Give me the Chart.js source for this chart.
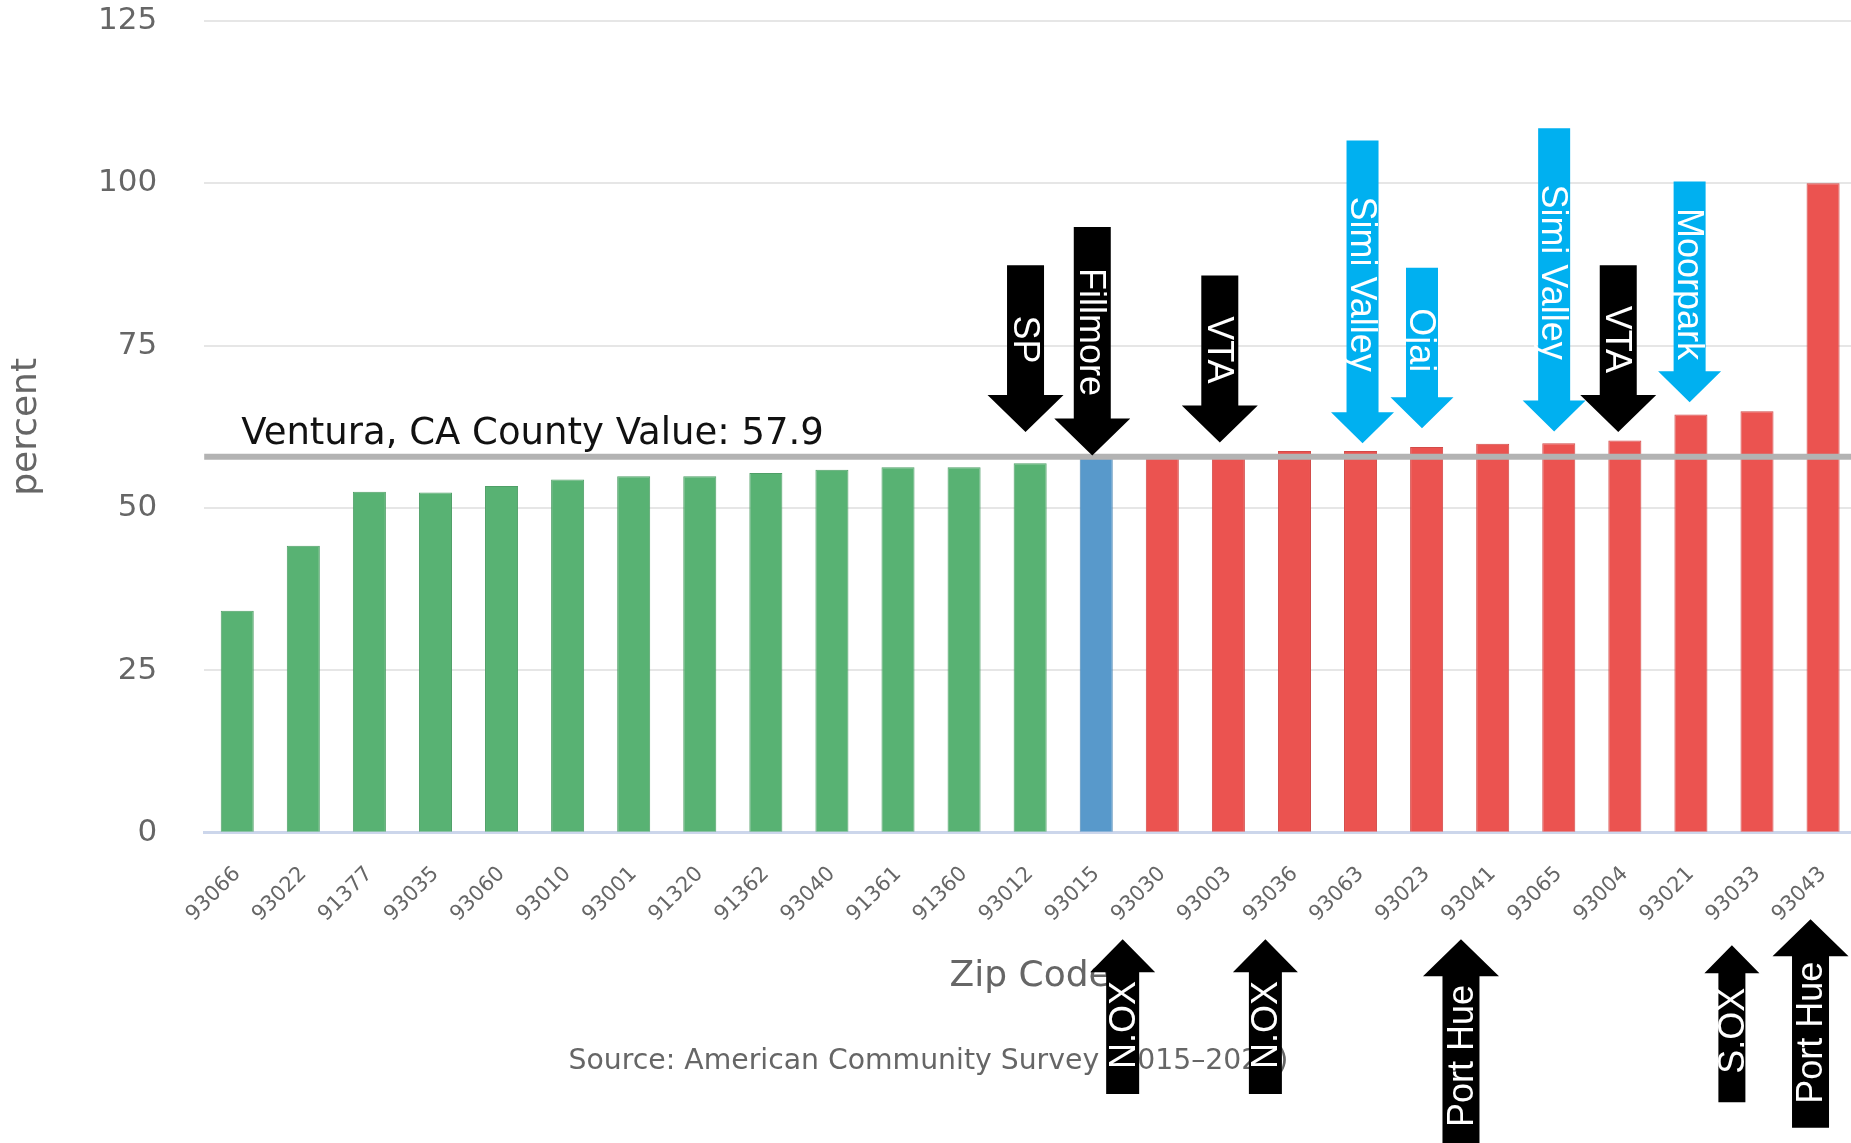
<!DOCTYPE html>
<html>
<head>
<meta charset="utf-8">
<title>Percent by Zip Code – Ventura County</title>
<script src="https://cdn.jsdelivr.net/npm/chart.js@4.4.0/dist/chart.umd.min.js"></script>
<style>
  html, body { margin: 0; padding: 0; background: #fff; overflow: hidden; }
  #wrap { width: 1851px; height: 1143px; overflow: hidden; }
</style>
</head>
<body>
<div id="wrap"><canvas id="chart" width="1862" height="1143"></canvas></div>
<script>
// ── データ ──────────────────────────────────────────────
const ZIP_CODES = [
  "93066", "93022", "91377", "93035", "93060", "93010", "93001", "91320", "91362",
  "93040", "91361", "91360", "93012", "93015", "93030", "93003", "93036", "93063",
  "93023", "93041", "93065", "93004", "93021", "93033", "93043",
];
const PERCENT = [
  34.2, 44.2, 52.5, 52.4, 53.4, 54.4, 54.9, 54.9, 55.4,
  55.9, 56.3, 56.3, 56.9, 57.9, 58.0, 58.1, 58.8, 58.8,
  59.4, 59.9, 60.0, 60.4, 64.4, 64.9, 100,
];
// below / equal / above the county value
const BAR_GROUP = [
  "below", "below", "below", "below", "below", "below", "below", "below", "below",
  "below", "below", "below", "below", "equal", "above", "above", "above", "above",
  "above", "above", "above", "above", "above", "above", "above",
];
const Y_TICKS = [0, 25, 50, 75, 100, 125];

const COUNTY_VALUE = 57.9;
const COUNTY_LABEL = "Ventura, CA County Value: 57.9";
const Y_TITLE = "percent";
const X_TITLE = "Zip Code";
const SOURCE_TEXT = "Source: American Community Survey (2015–2020)";

// ── 矢印の注記 (位置: カテゴリ番号, 値) ─────────────────
const ARROW_LABELS = [
  "SP", "Fillmore", "VTA", "Simi Valley", "Ojai", "Simi Valley", "VTA", "Moorpark",
  "N.OX", "N.OX", "Port Hue", "S.OX", "Port Hue",
];
const ARROW_AT   = [11.93, 12.94, 14.87, 17.03, 17.93, 19.93, 20.90, 21.98, 13.40, 15.56, 18.52, 22.62, 23.81];
const ARROW_TIP  = [61.7, 58.1, 60.1, 60.0, 62.3, 61.8, 61.7, 66.3, -16.4, -16.4, -16.4, -17.3, -13.3];
const ARROW_TAIL = [87.4, 93.3, 85.8, 106.6, 87.0, 108.5, 87.4, 100.3, -40.2, -40.2, -49.5, -41.5, -45.4];
const ARROW_KIND = [
  "black", "black", "black", "cyan", "cyan", "cyan", "black", "cyan",
  "black", "black", "black", "black", "black",
];
const ARROW_SIZE_KEY = [
  "large", "large", "large", "medium", "medium", "medium", "large", "medium",
  "mid", "mid", "large", "small", "large",
];

// ── スタイル ────────────────────────────────────────────
const GROUP_COLORS = { below: "#58b273", equal: "#5899cb", above: "#eb5350" };
const GROUP_BORDERS = { below: "#4f9f67", equal: "#4f89b6", above: "#d24a48" };
const ARROW_COLORS = { black: "#000000", cyan: "#00b0f0" };
const ARROW_SIZES = {
  large:  { shaft: 37, head: 76, headLen: 37 },
  medium: { shaft: 32, head: 63, headLen: 31 },
  mid:    { shaft: 33, head: 65, headLen: 33 },
  small:  { shaft: 27, head: 55, headLen: 28 },
};
const TEXT_FONT = '"DejaVu Sans", "Lucida Grande", sans-serif';
const ARROW_FONT = '36px "Liberation Sans", Arial, sans-serif';

// ── 県平均ライン + 矢印プラグイン ───────────────────────
const countyLinePlugin = {
  id: "countyLine",
  afterDatasetsDraw(chart) {
    const { ctx, chartArea, scales } = chart;
    const y = scales.y.getPixelForValue(COUNTY_VALUE);
    ctx.save();
    ctx.strokeStyle = "#b3b3b3";
    ctx.lineWidth = 6;
    ctx.beginPath();
    ctx.moveTo(chartArea.left, y);
    ctx.lineTo(chart.width, y);
    ctx.stroke();

    ctx.fillStyle = "#111";
    ctx.font = "37px " + TEXT_FONT;
    ctx.textAlign = "left";
    ctx.textBaseline = "alphabetic";
    ctx.fillText(COUNTY_LABEL, chartArea.left + 37, y - 13);
    ctx.restore();
  },
};

function drawArrow(ctx, x, yTip, yTail, size, color, label) {
  const dir = yTail < yTip ? 1 : -1; // 1 = 下向き
  const yBase = yTip - dir * size.headLen;
  ctx.fillStyle = color;
  ctx.beginPath();
  ctx.moveTo(x - size.shaft / 2, yTail);
  ctx.lineTo(x + size.shaft / 2, yTail);
  ctx.lineTo(x + size.shaft / 2, yBase);
  ctx.lineTo(x + size.head / 2, yBase);
  ctx.lineTo(x, yTip);
  ctx.lineTo(x - size.head / 2, yBase);
  ctx.lineTo(x - size.shaft / 2, yBase);
  ctx.closePath();
  ctx.fill();

  // テキストは矢印全体と軸部の中間あたり
  const cy = ((yTip + yTail) / 2 + (yTail + yBase) / 2) / 2;
  ctx.save();
  ctx.translate(x, cy);
  ctx.rotate(dir > 0 ? Math.PI / 2 : -Math.PI / 2);
  ctx.fillStyle = "#ffffff";
  ctx.font = ARROW_FONT;
  ctx.textAlign = "center";
  ctx.textBaseline = "middle";
  ctx.fillText(label, 0, 2);
  ctx.restore();
}

const arrowPlugin = {
  id: "arrows",
  afterDraw(chart) {
    const { ctx, scales } = chart;
    ctx.save();
    ARROW_LABELS.forEach((label, i) => {
      const x = scales.x.getPixelForValue(ARROW_AT[i]);
      const yTip = scales.y.getPixelForValue(ARROW_TIP[i]);
      const yTail = scales.y.getPixelForValue(ARROW_TAIL[i]);
      drawArrow(ctx, x, yTip, yTail, ARROW_SIZES[ARROW_SIZE_KEY[i]], ARROW_COLORS[ARROW_KIND[i]], label);
    });
    ctx.restore();
  },
};

// ── チャート描画 ────────────────────────────────────────
const ctx = document.getElementById("chart").getContext("2d");

new Chart(ctx, {
  type: "bar",
  plugins: [countyLinePlugin, arrowPlugin],
  data: {
    labels: ZIP_CODES,
    datasets: [
      {
        label: Y_TITLE,
        data: PERCENT,
        backgroundColor: BAR_GROUP.map((g) => GROUP_COLORS[g]),
        borderColor: BAR_GROUP.map((g) => GROUP_BORDERS[g]),
        borderWidth: 1,
        barPercentage: 0.5,
        categoryPercentage: 1.0,
      },
    ],
  },
  options: {
    responsive: false,
    devicePixelRatio: 1,
    animation: false,
    layout: { padding: { top: 21, right: 5, bottom: 0, left: 0 } },
    plugins: {
      legend: { display: false },
      tooltip: { enabled: false },
      title: {
        display: true,
        position: "bottom",
        text: SOURCE_TEXT,
        color: "#666666",
        font: { family: TEXT_FONT, size: 28.3, weight: "normal" },
        padding: { top: 10, bottom: 64 },
      },
    },
    scales: {
      x: {
        grid: { display: false },
        border: { display: true, color: "#ccd6eb", width: 3 },
        ticks: {
          autoSkip: false,
          minRotation: 45,
          maxRotation: 45,
          padding: 21,
          color: "#666666",
          font: { family: TEXT_FONT, size: 21 },
        },
        title: {
          display: true,
          text: X_TITLE,
          color: "#666666",
          font: { family: TEXT_FONT, size: 36 },
          padding: { top: 0, bottom: 37 },
        },
        afterFit: (scale) => { scale.height = 202.2; },
      },
      y: {
        min: Y_TICKS[0],
        max: Y_TICKS[Y_TICKS.length - 1],
        afterBuildTicks: (scale) => { scale.ticks = Y_TICKS.map((v) => ({ value: v })); },
        grid: {
          color: (c) => (c.tick && c.tick.value === 0 ? "rgba(0,0,0,0)" : "#e6e6e6"),
          lineWidth: 2,
          drawTicks: true,
          tickLength: 45,
          tickColor: "rgba(0,0,0,0)",
        },
        border: { display: false },
        ticks: {
          padding: 2,
          color: "#666666",
          font: { family: TEXT_FONT, size: 31 },
        },
        title: {
          display: true,
          text: Y_TITLE,
          color: "#666666",
          font: { family: TEXT_FONT, size: 36 },
          padding: { top: 5, bottom: 0 },
        },
        afterFit: (scale) => { scale.width = 204.2; },
      },
    },
  },
});
</script>
</body>
</html>
